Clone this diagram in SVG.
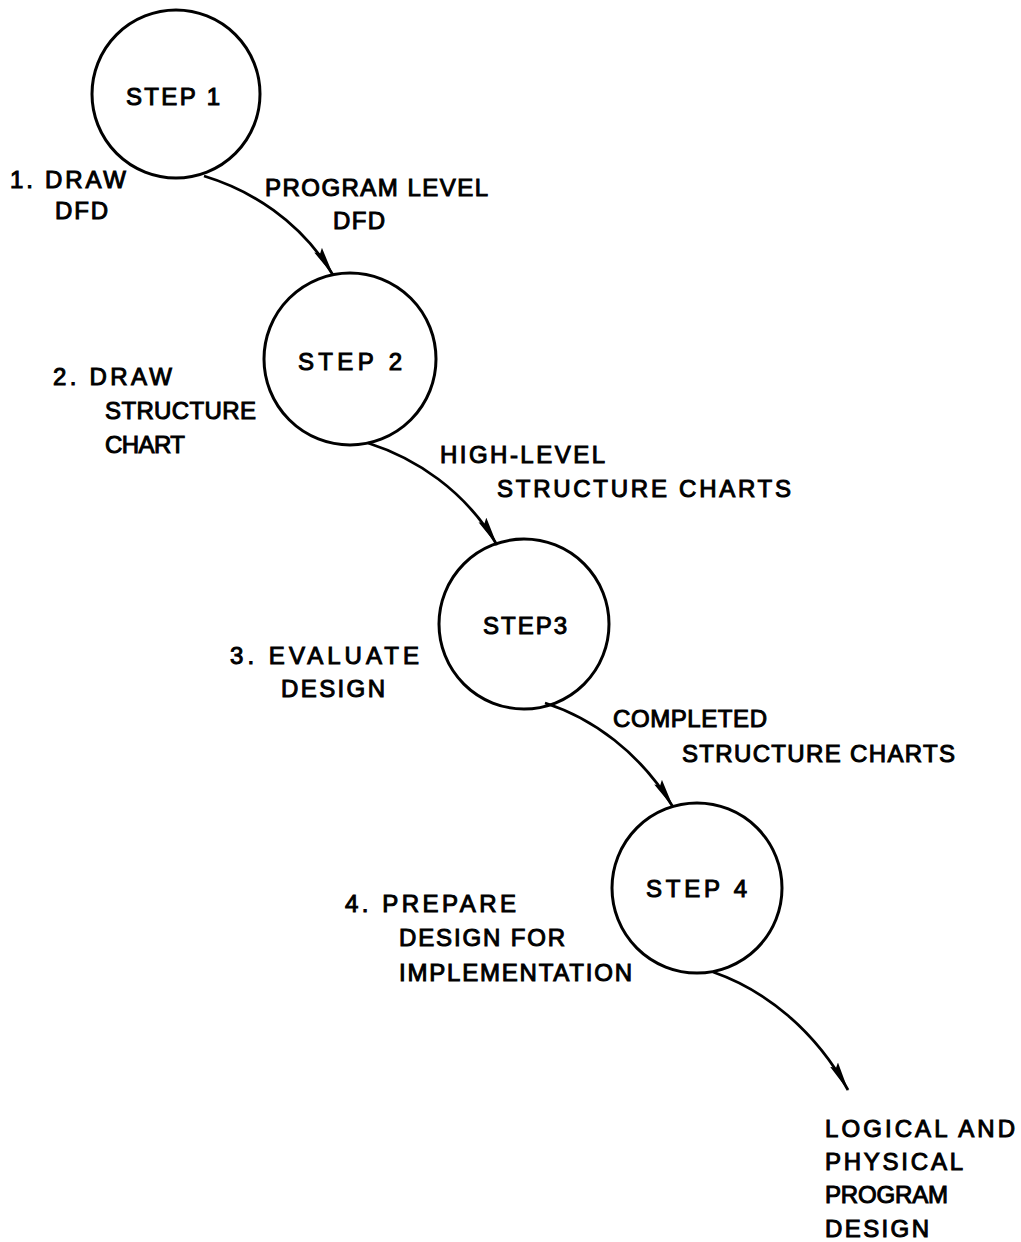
<svg xmlns="http://www.w3.org/2000/svg" width="1021" height="1242" viewBox="0 0 1021 1242">
<style>
.node circle{fill:none;stroke:#000;stroke-width:3}
text{font-family:"Liberation Sans",Arial,sans-serif;font-size:24px;fill:#000;stroke:#000;stroke-width:1}
.conn path{fill:none;stroke:#000;stroke-width:2.8}
</style>
<defs>
<marker id="ah" viewBox="0 0 30 10" refX="29" refY="5" markerWidth="30" markerHeight="10" markerUnits="userSpaceOnUse" orient="auto">
<path d="M0,0.5 L30,5 L0,9.5 L4,5 Z" fill="#000"/>
</marker>
</defs>
<rect width="1021" height="1242" fill="#fff"/>
<g id="step1" class="node">
<circle cx="176" cy="94" r="84"/>
<text x="126" y="105" textLength="94" lengthAdjust="spacing">STEP 1</text>
<text x="10" y="188" textLength="116" lengthAdjust="spacing">1. DRAW</text>
<text x="55" y="219" textLength="53" lengthAdjust="spacing">DFD</text>
</g>
<g id="step2" class="node">
<circle cx="350" cy="359" r="86"/>
<text x="298" y="370" textLength="104" lengthAdjust="spacing">STEP 2</text>
<text x="53" y="385" textLength="119" lengthAdjust="spacing">2. DRAW</text>
<text x="105" y="419" textLength="151" lengthAdjust="spacing">STRUCTURE</text>
<text x="105" y="453" textLength="80" lengthAdjust="spacing">CHART</text>
</g>
<g id="step3" class="node">
<circle cx="524" cy="624" r="85"/>
<text x="483" y="634" textLength="84" lengthAdjust="spacing">STEP3</text>
<text x="230" y="664" textLength="189" lengthAdjust="spacing">3. EVALUATE</text>
<text x="281" y="697" textLength="104" lengthAdjust="spacing">DESIGN</text>
</g>
<g id="step4" class="node">
<circle cx="697" cy="888" r="85"/>
<text x="646" y="897" textLength="101" lengthAdjust="spacing">STEP 4</text>
<text x="345" y="912" textLength="171" lengthAdjust="spacing">4. PREPARE</text>
<text x="399" y="946" textLength="166" lengthAdjust="spacing">DESIGN FOR</text>
<text x="399" y="981" textLength="233" lengthAdjust="spacing">IMPLEMENTATION</text>
</g>
<g id="output" class="node">
<text x="825" y="1137" textLength="190" lengthAdjust="spacing">LOGICAL AND</text>
<text x="825" y="1170" textLength="138" lengthAdjust="spacing">PHYSICAL</text>
<text x="825" y="1203" textLength="123" lengthAdjust="spacing">PROGRAM</text>
<text x="825" y="1237" textLength="104" lengthAdjust="spacing">DESIGN</text>
</g>
<g id="connectors" class="conn">
<path d="M204,176 C250,190 300,220 333,275" marker-end="url(#ah)"/>
<path d="M368,443 C415,458 465,490 497,545" marker-end="url(#ah)"/>
<path d="M545,703 C592,718 640,752 673,807" marker-end="url(#ah)"/>
<path d="M713,972 C765,990 815,1030 848,1090" marker-end="url(#ah)"/>
<text x="265" y="196" textLength="223" lengthAdjust="spacing">PROGRAM LEVEL</text>
<text x="333" y="229" textLength="52" lengthAdjust="spacing">DFD</text>
<text x="440" y="463" textLength="165" lengthAdjust="spacing">HIGH-LEVEL</text>
<text x="497" y="497" textLength="294" lengthAdjust="spacing">STRUCTURE CHARTS</text>
<text x="613" y="727" textLength="154" lengthAdjust="spacing">COMPLETED</text>
<text x="682" y="762" textLength="273" lengthAdjust="spacing">STRUCTURE CHARTS</text>
</g>
</svg>
